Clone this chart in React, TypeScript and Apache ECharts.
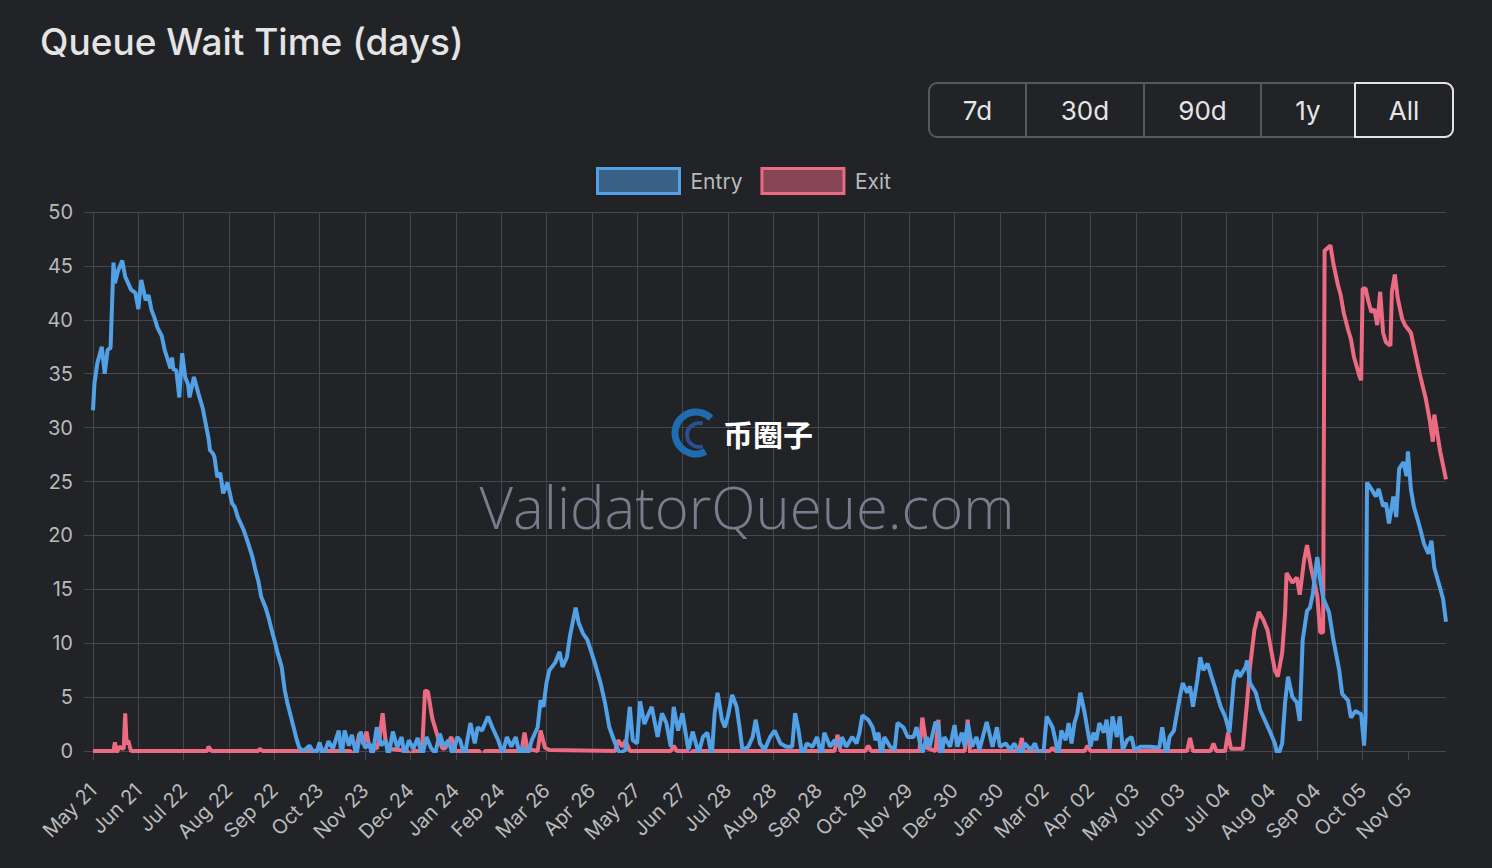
import React, { useEffect, useRef } from "react";
import * as echarts from "echarts";

// ---- data ----
const tickLabels = [
  "May 21", "Jun 21", "Jul 22", "Aug 22", "Sep 22", "Oct 23", "Nov 23", "Dec 24",
  "Jan 24", "Feb 24", "Mar 26", "Apr 26", "May 27", "Jun 27", "Jul 28", "Aug 28",
  "Sep 28", "Oct 29", "Nov 29", "Dec 30", "Jan 30", "Mar 02", "Apr 02", "May 03",
  "Jun 03", "Jul 04", "Aug 04", "Sep 04", "Oct 05", "Nov 05",
];
const tickStepDays = 31; // days between two x labels
const lastDay = 925; // days since May 21 of the last point

const rangeButtons = ["7d", "30d", "90d", "1y", "All"];
const selectedRange = "All";

// [days since May 21, wait in days]
const entryWait: [number, number][] = [
  [0, 31.6], [1, 34.1], [3, 36], [6, 37.5], [8, 35], [10, 37.2], [12, 37.4], [14, 45.3], [15, 43.4],
  [17, 44.5], [20, 45.5], [22, 44], [24, 43.4], [26, 42.8], [29, 42.5], [31, 41], [33, 43.7], [36, 41.8],
  [38, 42.3], [40, 40.9], [42, 40.2], [44, 39.3], [47, 38.5], [49, 37.2], [53, 35.5], [54, 36.5], [55, 35.4],
  [57, 35.3], [59, 32.8], [61, 36.9], [63, 34.7], [65, 34], [66, 32.8], [69, 34.7], [72, 33.2], [75, 31.8],
  [77, 30.4], [79, 29], [80, 27.9], [82, 27.6], [83, 27.3], [85, 25.4], [87, 25.8], [89, 23.9], [92, 24.9],
  [95, 23], [97, 22.6], [99, 21.7], [103, 20.5], [106, 19.3], [109, 18], [111, 16.8], [113, 15.8], [115, 14.3],
  [118, 13.3], [120, 12.4], [122, 11.3], [124, 10.3], [126, 9.2], [129, 7.8], [131, 5.7], [133, 4.4], [136, 2.8],
  [139, 1.2], [141, 0.3], [144, 0], [148, 0.5], [152, -0.4], [155, 0.8], [157, -0.6], [161, 0.9], [164, 0.2],
  [168, 1.9], [170, -0.5], [172, 1.9], [175, 0.5], [177, 1.5], [180, -0.4], [183, 1.8], [186, 0.3], [189, 0.7],
  [191, -0.5], [194, 2.2], [197, 0.5], [200, 1.0], [202, -0.5], [205, 1.8], [208, 0.3], [211, 1.3], [213, -0.4],
  [216, 1.0], [219, 0.2], [222, 1.2], [225, -0.5], [228, 1.3], [231, 0.3], [234, -0.2], [237, 1.6], [240, 0.4],
  [243, 1.0], [246, -0.4], [249, 1.3], [251, 1.0], [254, -0.5], [258, 2.6], [261, 0.7], [263, 2.2], [266, 1.9],
  [270, 3.2], [273, 2.2], [277, 1.0], [280, -0.2], [283, 1.3], [286, 0.4], [289, 1.3], [292, -0.5], [294, 0.4],
  [297, -0.5], [300, 1.0], [304, 2.2], [306, 4.7], [308, 4.1], [310, 6.3], [312, 7.5], [316, 8.2], [319, 9.2],
  [321, 7.8], [324, 8.7], [326, 10.6], [330, 13.3], [332, 11.9], [335, 10.9], [338, 10.3], [343, 8.2], [347, 6.3],
  [350, 4.5], [353, 2.2], [357, 0.7], [360, -0.2], [364, 0.1], [367, 4.1], [369, 1.0], [372, 0.7], [374, 4.6],
  [377, 2.5], [379, 3.2], [382, 4.1], [386, 1.3], [389, 3.5], [392, 2.6], [395, 0.4], [397, 4.1], [400, 1.9],
  [403, 3.5], [407, 0.1], [410, 1.8], [414, -0.2], [417, 1.3], [420, 1.7], [423, -0.5], [425, 3.5], [427, 5.4],
  [430, 2.9], [432, 2.2], [434, 3.2], [437, 5.2], [440, 4.1], [442, 2.2], [444, 0.1], [448, 0.4], [451, 1.3],
  [453, 2.9], [456, 0.7], [459, 0.1], [463, 1.3], [466, 1.9], [470, 0.7], [474, 0.4], [478, 0.4], [480, 3.5],
  [482, 2.2], [485, -0.5], [488, 0.7], [492, 0.4], [495, 1.3], [498, -0.5], [500, 1.7], [504, 0.4], [507, 1.0],
  [511, 0.4], [512, 1.3], [515, 0.4], [519, 1.3], [522, 0.7], [524, 1.7], [526, 3.3], [530, 2.9], [533, 2.2],
  [535, 1.0], [537, 1.7], [539, -0.5], [541, 1.3], [545, 0.4], [548, 0.1], [550, 2.6], [554, 2.2], [557, 1.3],
  [561, 1.3], [563, 2.2], [567, -0.2], [570, 1.3], [572, 0.4], [576, 2.7], [578, 2.4], [580, -0.5], [582, 1.3],
  [586, 0.4], [589, 2.4], [591, 0.4], [594, 1.7], [596, 0.4], [598, 2.6], [601, 0.4], [604, 1.3], [606, 0.1],
  [611, 2.7], [615, 0.4], [618, 2.2], [620, 0.4], [624, 0.7], [627, 0.1], [630, 0.7], [634, -0.5], [637, 0.7],
  [641, 0.1], [644, 0.7], [647, -0.5], [650, 0.1], [652, 3.2], [656, 2.2], [658, 1.0], [660, -0.5], [662, 1.9],
  [665, 1.0], [667, 2.6], [669, 0.7], [671, 2.6], [673, 3.5], [675, 5.4], [678, 3.5], [680, 1.9], [682, 0.4],
  [684, 1.7], [686, 1.0], [688, 2.6], [691, 1.7], [693, 2.9], [695, 0.1], [697, 3.2], [700, 1.3], [702, 3.2],
  [704, 0.1], [707, 1.0], [710, 1.3], [712, 0.1], [716, 0.4], [723, 0.4], [729, 0.3], [731, 2.2], [734, -0.5],
  [736, 1.3], [739, 1.9], [743, 5.0], [745, 6.3], [748, 5.4], [750, 6.0], [752, 4.1], [755, 6.6], [757, 8.7],
  [759, 7.5], [762, 8.1], [764, 7.2], [767, 5.9], [771, 4.1], [774, 3.2], [777, 1.7], [780, 6.6], [782, 7.5],
  [784, 6.9], [788, 7.8], [789, 8.4], [791, 6.3], [795, 5.4], [798, 3.8], [801, 2.9], [805, 1.7], [808, 0.7],
  [810, -0.5], [813, 0.7], [815, 4.5], [817, 6.9], [820, 5.0], [823, 4.5], [825, 2.8], [827, 10.3], [830, 13.0],
  [832, 13.3], [834, 14.6], [836, 17.0], [837, 18.0], [839, 15.9], [841, 14.2], [845, 12.9], [848, 10.3],
  [852, 7.5], [854, 5.3], [858, 4.7], [860, 3.1], [863, 3.7], [867, 3.4], [869, 0.5], [870, 3.1], [871, 24.9],
  [874, 24.3], [877, 23.6], [879, 24.3], [882, 22.7], [884, 23.0], [886, 21.1], [889, 23.6], [891, 21.7],
  [893, 26.2], [896, 26.8], [898, 25.5], [899, 27.8], [901, 24.3], [903, 22.7], [907, 20.8], [910, 19.2],
  [913, 18.3], [915, 19.5], [917, 17.0], [921, 15.1], [923, 14.1], [925, 12.0],
];

const exitWait: [number, number][] = [
  [0, 0], [14, 0], [15, 0.8], [16, -0.2], [18, 0.4], [21, 0.2], [22, 3.5], [23, 0.6], [24, 1.0], [26, 0],
  [78, 0], [79, 0.4], [81, 0], [113, 0], [114, 0.2], [116, 0], [153, 0], [155, 0.6], [157, 0], [176, 0],
  [178, -0.6], [180, 0.2], [182, 1.6], [185, 0.6], [187, 1.8], [189, 0.3], [191, 0.5], [194, 0.2], [196, 1.2],
  [198, 3.5], [200, 1.0], [202, 0.2], [215, 0], [217, -0.6], [219, 0], [225, 0], [227, 5.6], [229, 5.5],
  [232, 3.0], [236, 1.2], [239, 0.2], [241, 0.3], [245, 1.3], [248, 0], [264, 0], [266, -0.8], [268, 0],
  [293, 0], [295, 1.7], [297, 0.2], [304, 0], [306, 1.9], [309, 0.3], [312, 0.1], [357, 0], [359, 1.0],
  [362, 0.4], [364, 1.0], [367, 0], [395, 0], [397, 0.5], [399, 0], [406, 0], [408, -0.5], [410, 0],
  [507, 0], [509, 1.5], [511, 0], [528, 0], [530, 0.5], [532, 0], [565, 0], [567, 3.1], [570, 0.3],
  [576, 0], [578, 2.9], [579, -0.8], [581, 0], [596, 0], [598, 2.9], [600, -0.8], [602, 0], [633, 0],
  [635, 1.2], [637, -0.5], [639, 0], [654, 0], [656, 0.3], [658, 0], [678, 0], [680, 0.5], [682, 0],
  [748, 0], [750, 1.2], [752, 0], [764, 0], [766, 0.7], [768, 0], [774, 0], [776, 1.7], [778, 0.2],
  [786, 0.2], [789, 4.5], [791, 7.8], [794, 11.2], [797, 12.9], [800, 12.2], [803, 11.2], [805, 9.7],
  [808, 7.5], [810, 6.9], [813, 9.1], [815, 12.8], [816, 16.5], [820, 15.6], [823, 16.1], [825, 14.5],
  [828, 17.7], [830, 19.1], [833, 16.8], [837, 14.4], [839, 11.0], [841, 11.0], [842, 46.4], [846, 46.9],
  [848, 45.2], [851, 43.3], [853, 42.3], [855, 40.7], [858, 39.1], [860, 38.2], [862, 36.6], [866, 34.7],
  [867, 34.4], [868, 42.9], [870, 42.9], [872, 41.7], [874, 40.7], [876, 41.0], [878, 39.5], [880, 42.6],
  [882, 38.8], [884, 37.9], [887, 37.6], [888, 42.6], [890, 44.2], [892, 42.0], [895, 40.1], [897, 39.5],
  [901, 38.8], [904, 36.9], [907, 35.0], [911, 32.8], [914, 30.6], [916, 28.7], [917, 31.2], [921, 27.8],
  [925, 25.2],
];

// ---- styles ----
const BG = "#212327";
const GRID = "#44474d";
const LABEL = "#b9babc";
const BLUE = "#52a0e6";
const PINK = "#ec6a82";
const FONT = "Inter, 'Helvetica Neue', Arial, sans-serif";

function buildOption() {
  const tickDays = tickLabels.map((_, i) => i * tickStepDays);
  const btnEdges = [929, 1026, 1144, 1261, 1355, 1453];
  const btnTop = 83;
  const btnH = 54;

  const graphics: any[] = [
    {
      type: "rect",
      shape: { x: btnEdges[0], y: btnTop, width: btnEdges[5] - btnEdges[0], height: btnH, r: 8 },
      style: { fill: "transparent", stroke: "#55585e", lineWidth: 2 },
      z: 10,
    },
  ];
  for (let i = 1; i < btnEdges.length - 1; i++) {
    graphics.push({
      type: "line",
      shape: { x1: btnEdges[i], y1: btnTop + 1, x2: btnEdges[i], y2: btnTop + btnH - 1 },
      style: { stroke: "#55585e", lineWidth: 2 },
      z: 10,
    });
  }
  rangeButtons.forEach((label, i) => {
    const x0 = btnEdges[i];
    const x1 = btnEdges[i + 1];
    if (label === selectedRange) {
      graphics.push({
        type: "rect",
        shape: { x: x0, y: btnTop, width: x1 - x0, height: btnH, r: [0, 8, 8, 0] },
        style: { fill: "transparent", stroke: "#e4e4e4", lineWidth: 2 },
        z: 11,
      });
    }
    graphics.push({
      type: "text",
      x: (x0 + x1) / 2,
      y: btnTop + btnH / 2,
      style: {
        text: label,
        fill: "#e6e6e6",
        fontSize: 26,
        fontFamily: FONT,
        align: "center",
        verticalAlign: "middle",
      },
      z: 12,
    });
  });

  // watermark
  graphics.push(
    {
      type: "arc",
      shape: { cx: 696, cy: 433, r: 21, startAngle: Math.PI * 0.35, endAngle: Math.PI * 1.75, clockwise: true },
      style: { stroke: "#1f6db0", lineWidth: 7, fill: "none" },
      z: 1,
    },
    {
      type: "arc",
      shape: { cx: 699, cy: 435, r: 12, startAngle: Math.PI * 0.4, endAngle: Math.PI * 1.6, clockwise: true },
      style: { stroke: "#2b4f90", lineWidth: 4, fill: "none" },
      z: 1,
    },
    {
      type: "text",
      x: 768,
      y: 433,
      style: {
        text: "币圈子",
        fill: "#ffffff",
        fontSize: 30,
        fontWeight: "bold",
        fontFamily: "'Noto Sans CJK SC', sans-serif",
        align: "center",
        verticalAlign: "middle",
      },
      z: 1,
    },
    {
      type: "text",
      x: 747,
      y: 506,
      style: {
        text: "ValidatorQueue.com",
        fill: "#7a7d8b",
        fontSize: 58,
        fontWeight: 300,
        fontFamily: "'Open Sans', Inter, sans-serif",
        align: "center",
        verticalAlign: "middle",
      },
      z: 1,
    }
  );

  return {
    animation: false,
    backgroundColor: BG,
    title: {
      text: "Queue Wait Time (days)",
      left: 35,
      top: 18,
      textStyle: { color: "#e4e4e4", fontSize: 37, fontWeight: 500, fontFamily: FONT },
    },
    legend: {
      top: 162,
      left: 591,
      icon: "rect",
      itemWidth: 82,
      itemHeight: 25,
      itemGap: 18,
      textStyle: { color: LABEL, fontSize: 21, fontFamily: FONT, padding: [0, 0, 0, 6] },
      data: [
        { name: "Entry", itemStyle: { color: "rgba(82,160,230,0.5)", borderColor: BLUE, borderWidth: 3 } },
        { name: "Exit", itemStyle: { color: "rgba(236,106,130,0.5)", borderColor: PINK, borderWidth: 3 } },
      ],
    },
    grid: { left: 93, right: 46, top: 212, bottom: 117, containLabel: false },
    xAxis: {
      type: "value",
      min: 0,
      max: lastDay,
      interval: tickStepDays,
      axisLine: { show: false },
      axisTick: {
        show: true,
        length: 9,
        customValues: tickDays,
        lineStyle: { color: GRID, width: 1 },
      },
      axisLabel: {
        customValues: tickDays,
        rotate: 45,
        margin: 36,
        color: LABEL,
        fontSize: 20,
        fontFamily: FONT,
        formatter: (v: number) => tickLabels[Math.round(v / tickStepDays)] ?? "",
      },
      splitLine: { show: true, showMaxLine: false, lineStyle: { color: GRID, width: 1 } },
    },
    yAxis: {
      type: "value",
      min: 0,
      max: 50,
      interval: 5,
      axisLine: { show: false },
      axisTick: { show: true, length: 9, lineStyle: { color: GRID, width: 1 } },
      axisLabel: { color: LABEL, fontSize: 20, fontFamily: FONT, margin: 20 },
      splitLine: { show: true, lineStyle: { color: GRID, width: 1 } },
    },
    graphic: graphics,
    series: [
      {
        name: "Exit",
        type: "line",
        data: exitWait,
        showSymbol: false,
        symbol: "none",
        lineStyle: { color: PINK, width: 4 },
        itemStyle: { color: PINK },
        z: 3,
      },
      {
        name: "Entry",
        type: "line",
        data: entryWait,
        showSymbol: false,
        symbol: "none",
        lineStyle: { color: BLUE, width: 4 },
        itemStyle: { color: BLUE },
        z: 4,
      },
    ],
  };
}

export default function App() {
  const ref = useRef<HTMLDivElement>(null);
  useEffect(() => {
    if (!ref.current) return;
    const chart = echarts.init(ref.current, null, { renderer: "svg" });
    chart.setOption(buildOption() as any);
    return () => chart.dispose();
  }, []);
  return (
    <div
      ref={ref}
      style={{ position: "fixed", left: 0, top: 0, width: 1492, height: 868, background: BG }}
    />
  );
}
